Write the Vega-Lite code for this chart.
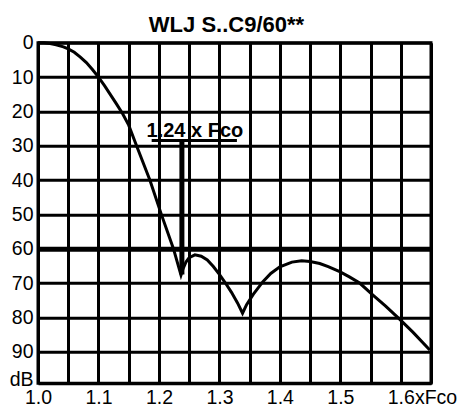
{
  "$schema": "https://vega.github.io/schema/vega-lite/v6.json",
  "width": 393,
  "height": 340.6,
  "autosize": "none",
  "padding": {"left": 38, "top": 42.7, "right": 36, "bottom": 23.7},
  "background": "white",
  "config": {
    "font": "Liberation Sans",
    "view": {"stroke": "black", "strokeWidth": 3},
    "axis": {"labelFont": "Liberation Sans", "labelColor": "black", "labelOverlap": false, "labelFlush": false},
    "axisY": {"labelOverlap": false},
    "axisX": {"labelOverlap": false}
  },
  "title": {
    "text": "WLJ S..C9/60**",
    "font": "Liberation Sans",
    "fontSize": 22,
    "fontWeight": "bold",
    "color": "black",
    "anchor": "middle",
    "frame": "group",
    "dx": -8,
    "dy": 30,
    "offset": 9,
    "baseline": "alphabetic"
  },
  "datasets": {
    "curve": [
      {"f": 1.0, "db": 0},
      {"f": 1.01, "db": 0.05},
      {"f": 1.02, "db": 0.25},
      {"f": 1.03, "db": 0.6},
      {"f": 1.042, "db": 1.2},
      {"f": 1.05, "db": 1.8},
      {"f": 1.06, "db": 2.8},
      {"f": 1.07, "db": 4.2},
      {"f": 1.08, "db": 5.8},
      {"f": 1.09, "db": 7.8},
      {"f": 1.1, "db": 10},
      {"f": 1.11, "db": 12.5},
      {"f": 1.12, "db": 15.2},
      {"f": 1.13, "db": 17.9},
      {"f": 1.14, "db": 20.7},
      {"f": 1.15, "db": 24},
      {"f": 1.163, "db": 30},
      {"f": 1.185, "db": 40},
      {"f": 1.204, "db": 50},
      {"f": 1.224, "db": 60},
      {"f": 1.2365, "db": 67.7},
      {"f": 1.24, "db": 65.8},
      {"f": 1.245, "db": 63.8},
      {"f": 1.25, "db": 62.6},
      {"f": 1.2595, "db": 61.8},
      {"f": 1.27, "db": 62.2},
      {"f": 1.28, "db": 63.3},
      {"f": 1.29, "db": 65.2},
      {"f": 1.3, "db": 67.5},
      {"f": 1.31, "db": 70},
      {"f": 1.32, "db": 72.7},
      {"f": 1.33, "db": 75.8},
      {"f": 1.3383, "db": 78.8},
      {"f": 1.345, "db": 76.3},
      {"f": 1.356, "db": 73.3},
      {"f": 1.372, "db": 69.6},
      {"f": 1.385, "db": 67.2},
      {"f": 1.4, "db": 65.3},
      {"f": 1.42, "db": 63.9},
      {"f": 1.436, "db": 63.5},
      {"f": 1.45, "db": 63.7},
      {"f": 1.466, "db": 64.3},
      {"f": 1.48, "db": 65.2},
      {"f": 1.499, "db": 66.7},
      {"f": 1.515, "db": 68.2},
      {"f": 1.532, "db": 70},
      {"f": 1.554, "db": 73.5},
      {"f": 1.575, "db": 76.7},
      {"f": 1.598, "db": 80.5},
      {"f": 1.62, "db": 84.3},
      {"f": 1.648, "db": 89.5}
    ],
    "underline": [{"f1": 1.188, "f2": 1.329, "db": 28.5}],
    "arrow": [{"f": 1.238, "db1": 28.5, "db2": 67.5}],
    "label": [{"f": 1.2595, "db": 27.4, "text": "1.24 x Fco"}]
  },
  "layer": [
    {
      "data": {"name": "curve"},
      "mark": {"type": "line", "color": "black", "strokeWidth": 3, "interpolate": "linear"},
      "encoding": {
        "x": {
          "field": "f", "type": "quantitative",
          "scale": {"domain": [1.0, 1.65], "nice": false, "zero": false},
          "axis": {
            "title": null,
            "values": [1.0, 1.05, 1.1, 1.15, 1.2, 1.25, 1.3, 1.35, 1.4, 1.45, 1.5, 1.55, 1.6, 1.65],
            "tickCount": 14,
            "labelExpr": "round(datum.value*100) % 10 == 0 ? (round(datum.value*100) == 160 ? '1.6xFco' : format(datum.value, '.1f')) : ''",
            "labelFontSize": 19.5,
            "labelAlign": "left",
            "labelOffset": -13.5,
            "labelBaseline": "top",
            "labelPadding": 5,
            "labelFlush": false,
            "labelOverlap": false,
            "ticks": false,
            "domain": true,
            "domainColor": "black",
            "domainWidth": 3,
            "grid": true,
            "gridColor": "black",
            "gridWidth": 3,
            "gridOpacity": 1
          }
        },
        "y": {
          "field": "db", "type": "quantitative",
          "scale": {"domain": [0, 99.2], "reverse": true, "nice": false, "zero": false},
          "axis": {
            "title": null,
            "values": [0, 10, 20, 30, 40, 50, 60, 70, 80, 90, 98],
            "tickCount": 30,
            "labelExpr": "datum.value == 98 ? 'dB' : format(datum.value, 'd')",
            "labelFontSize": 19.5,
            "labelPadding": 5,
            "labelFlush": false,
            "labelOverlap": false,
            "labelBound": false,
            "ticks": false,
            "domain": true,
            "domainColor": "black",
            "domainWidth": 3,
            "grid": true,
            "gridColor": "black",
            "gridWidth": {"condition": {"test": "datum.value == 60", "value": 5}, "value": 3},
            "gridOpacity": {"condition": {"test": "datum.value == 98", "value": 0}, "value": 1}
          }
        }
      }
    },
    {
      "data": {"name": "underline"},
      "mark": {"type": "rule", "color": "black", "strokeWidth": 3},
      "encoding": {
        "x": {"field": "f1", "type": "quantitative"},
        "x2": {"field": "f2"},
        "y": {"field": "db", "type": "quantitative"}
      }
    },
    {
      "data": {"name": "arrow"},
      "mark": {"type": "rule", "color": "black", "strokeWidth": 5},
      "encoding": {
        "x": {"field": "f", "type": "quantitative"},
        "y": {"field": "db1", "type": "quantitative"},
        "y2": {"field": "db2"}
      }
    },
    {
      "data": {"name": "label"},
      "mark": {"type": "text", "font": "Liberation Sans", "fontSize": 20, "fontWeight": "bold", "color": "black", "align": "center", "baseline": "alphabetic"},
      "encoding": {
        "x": {"field": "f", "type": "quantitative"},
        "y": {"field": "db", "type": "quantitative"},
        "text": {"field": "text"}
      }
    }
  ]
}
